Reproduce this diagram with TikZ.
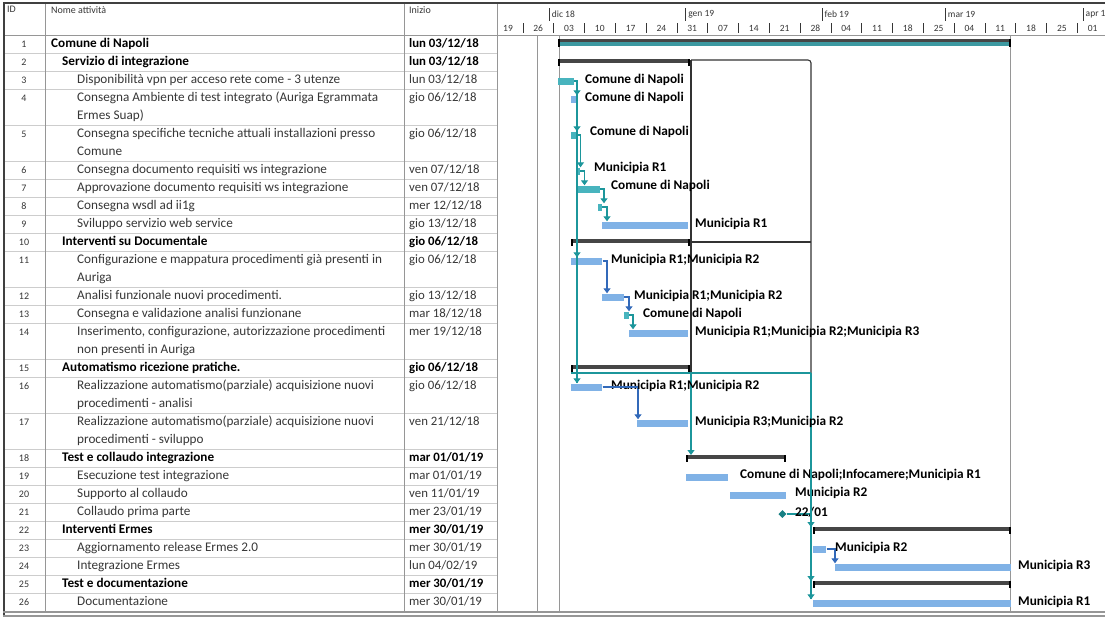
\documentclass[tikz,border=0pt]{standalone}
\usepackage{fontspec}
\setmainfont{Carlito}
\usetikzlibrary{arrows.meta,shapes.geometric}
\definecolor{barblue}{RGB}{128,178,230}
\definecolor{barteal}{RGB}{72,180,190}
\definecolor{linkteal}{RGB}{28,150,155}
\definecolor{linkblue}{RGB}{50,105,185}
\definecolor{sumgray}{RGB}{70,70,70}
\definecolor{gridgray}{RGB}{205,205,205}
\definecolor{colgray}{RGB}{150,150,150}
\definecolor{txtgray}{RGB}{55,55,55}
\begin{document}
\begin{tikzpicture}[x=1pt,y=-1pt,
  tbar/.style={fill=barblue, draw=none, minimum height=7pt, inner sep=0pt, anchor=west},
  cbar/.style={tbar, fill=barteal},
  sbar/.style={fill=sumgray, draw=none, minimum height=4pt, inner sep=0pt, anchor=north west},
  lab/.style={font=\fontsize{13.3}{15}\selectfont\bfseries, anchor=west, inner sep=0pt, text=black},
  tname/.style={anchor=north west, inner sep=0pt, align=left, font=\fontsize{13.2}{18}\selectfont, text=txtgray},
  tbold/.style={tname, font=\fontsize{13.2}{18}\selectfont\bfseries, text=black},
  tdate/.style={tname, font=\fontsize{12.8}{18}\selectfont},
  tdbold/.style={tname, font=\fontsize{12.8}{18}\selectfont\bfseries, text=black},
  tid/.style={anchor=north, inner sep=0pt, font=\fontsize{10}{18}\selectfont, text=txtgray},
  thead/.style={anchor=north west, inner sep=0pt, font=\fontsize{10}{12}\selectfont, text=txtgray},
  tscale/.style={inner sep=0pt, font=\fontsize{9.5}{11}\selectfont, text=txtgray},
  tlink/.style={draw=linkteal, line width=1.1pt},
  blink/.style={draw=linkblue, line width=1.1pt},
  flink/.style={draw=black!80, line width=1.1pt},
  tip/.style={-{Triangle[width=7pt,length=5pt]}}
]
\useasboundingbox (0,0) rectangle (1105,621);
\fill[white] (0,0) rectangle (1105,621);

% ---------- grid of the table ----------
\foreach \y in {35,53,71,89,125,161,179,197,215,233,251,287,305,323,359,377,413,449,467,485,503,521,539,557,575,593}
  \draw[gridgray, line width=0.8pt] (4,\y) -- (497,\y);
\foreach \x in {45,404,497}
  \draw[colgray, line width=0.8pt] (\x,3) -- (\x,611);
\draw[colgray, line width=0.8pt] (4,35) -- (1105,35);
\draw[black!75, line width=1.5pt] (3,3) -- (1105,3);
\draw[black!75, line width=2pt] (4,3) -- (4,617);
\draw[colgray, line width=1.5pt] (3,612) -- (1105,612);
\draw[colgray, line width=1.5pt] (3,616) -- (1105,616);
% chart vertical lines
\foreach \x in {537,559,1010}
  \draw[colgray, line width=0.8pt] (\x,35) -- (\x,611);

% ---------- header ----------
\node[thead] (hid) at (7,6) {ID};
\node[thead] (hname) at (51,6) {Nome attività};
\node[thead] (hdate) at (409,6) {Inizio};
% months
\foreach \x/\t [count=\i] in {549.2/dic 18,685.6/gen 19,822/feb 19,945.2/mar 19,1083/apr 19}{
  \draw[txtgray, line width=0.6pt] (\x,8) -- (\x,21);
  \node[tscale, anchor=west] (mon\i) at (\x+2.5,14) {\t};
}
% weeks
\foreach \x in {522.8,553.6,584.4,615.2,646,676.8,707.6,738.4,769.2,800,830.8,861.6,892.4,923.2,954,984.8,1015.6,1046.4,1077.2}
  \draw[txtgray, line width=0.6pt] (\x,23) -- (\x,33);
\foreach \x/\t [count=\i] in {508/19,538.2/26,569/03,599.8/10,630.6/17,661.4/24,692.2/31,723/07,753.8/14,784.6/21,815.4/28,846.2/04,877/11,907.8/18,938.6/25,969.4/04,1000.2/11,1031/18,1061.8/25,1092.6/01}
  \node[tscale] (wk\i) at (\x,28) {\t};

% ---------- IDs ----------
\foreach \n/\y in {1/35,2/53,3/71,4/89,5/125,6/161,7/179,8/197,9/215,10/233,11/251,12/287,13/305,14/323,15/359,16/377,17/413,18/449,19/467,20/485,21/503,22/521,23/539,24/557,25/575,26/593}
  \node[tid] (id\n) at (24,\y) {\strut\n};

% ---------- names ----------
\node[tbold] (n1) at (51,35) {\strut Comune di Napoli};
\node[tbold] (n2) at (62,53) {\strut Servizio di integrazione};
\node[tname] (n3) at (77,71) {\strut Disponibilità vpn per acceso rete come - 3 utenze};
\node[tname] (n4) at (77,89) {\strut Consegna Ambiente di test integrato (Auriga Egrammata\\\strut Ermes Suap)};
\node[tname] (n5) at (77,125) {\strut Consegna specifiche tecniche attuali installazioni presso\\\strut Comune};
\node[tname] (n6) at (77,161) {\strut Consegna documento requisiti ws integrazione};
\node[tname] (n7) at (77,179) {\strut Approvazione documento requisiti ws integrazione};
\node[tname] (n8) at (77,197) {\strut Consegna wsdl ad ii1g};
\node[tname] (n9) at (77,215) {\strut Sviluppo servizio web service};
\node[tbold] (n10) at (62,233) {\strut Interventi su Documentale};
\node[tname] (n11) at (77,251) {\strut Configurazione e mappatura procedimenti già presenti in\\\strut Auriga};
\node[tname] (n12) at (77,287) {\strut Analisi funzionale nuovi procedimenti.};
\node[tname] (n13) at (77,305) {\strut Consegna e validazione analisi funzionane};
\node[tname] (n14) at (77,323) {\strut Inserimento, configurazione, autorizzazione procedimenti\\\strut non presenti in Auriga};
\node[tbold] (n15) at (62,359) {\strut Automatismo ricezione pratiche.};
\node[tname] (n16) at (77,377) {\strut Realizzazione automatismo(parziale) acquisizione nuovi\\\strut procedimenti - analisi};
\node[tname] (n17) at (77,413) {\strut Realizzazione automatismo(parziale) acquisizione nuovi\\\strut procedimenti - sviluppo};
\node[tbold] (n18) at (62,449) {\strut Test e collaudo integrazione};
\node[tname] (n19) at (77,467) {\strut Esecuzione test integrazione};
\node[tname] (n20) at (77,485) {\strut Supporto al collaudo};
\node[tname] (n21) at (77,503) {\strut Collaudo prima parte};
\node[tbold] (n22) at (62,521) {\strut Interventi Ermes};
\node[tname] (n23) at (77,539) {\strut Aggiornamento release Ermes 2.0};
\node[tname] (n24) at (77,557) {\strut Integrazione Ermes};
\node[tbold] (n25) at (62,575) {\strut Test e documentazione};
\node[tname] (n26) at (77,593) {\strut Documentazione};

% ---------- start dates ----------
\foreach \n/\y/\d in {3/71/{lun 03/12/18},4/89/{gio 06/12/18},5/125/{gio 06/12/18},6/161/{ven 07/12/18},7/179/{ven 07/12/18},8/197/{mer 12/12/18},9/215/{gio 13/12/18},11/251/{gio 06/12/18},12/287/{gio 13/12/18},13/305/{mar 18/12/18},14/323/{mer 19/12/18},16/377/{gio 06/12/18},17/413/{ven 21/12/18},19/467/{mar 01/01/19},20/485/{ven 11/01/19},21/503/{mer 23/01/19},23/539/{mer 30/01/19},24/557/{lun 04/02/19},26/593/{mer 30/01/19}}
  \node[tdate] (d\n) at (409,\y) {\strut\d};
\foreach \n/\y/\d in {1/35/{lun 03/12/18},2/53/{lun 03/12/18},10/233/{gio 06/12/18},15/359/{gio 06/12/18},18/449/{mar 01/01/19},22/521/{mer 30/01/19},25/575/{mer 30/01/19}}
  \node[tdbold] (d\n) at (409,\y) {\strut\d};

% ---------- summary bars ----------
\fill[sumgray] (558,39) rectangle (1011,42);
\fill[barteal!85!black] (558,42) rectangle (1011,46);
\node[inner sep=0pt, minimum width=2pt, minimum height=8pt, fill=black, anchor=north west] (s1a) at (558,39) {};
\node[inner sep=0pt, minimum width=2pt, minimum height=8pt, fill=black, anchor=north east] (s1b) at (1011,39) {};
\foreach \n/\x/\w/\y in {2/558/132/59,10/571.2/118.8/239,15/571.2/118.8/365,18/685.6/100.4/455,22/813.2/197.8/527,25/813.2/197.8/581}{
  \node[sbar, minimum width=\w pt] (s\n) at (\x,\y) {};
  \fill[black] (s\n.north west) rectangle ++(2.2,7);
  \fill[black] (s\n.north east) rectangle ++(-2.2,7);
}

% ---------- task bars ----------
\node[cbar, minimum width=16pt] (b3) at (558,81) {};
\node[tbar, minimum width=5pt] (b4) at (571.2,99) {};
\node[cbar, minimum width=4.4pt] (b5) at (571.2,135) {};
\node[cbar, minimum width=4.4pt] (b6) at (575.6,171) {};
\node[cbar, minimum width=24pt] (b7) at (575.6,189) {};
\node[cbar, minimum width=4.4pt] (b8) at (597.6,207) {};
\node[tbar, minimum width=86pt] (b9) at (602,225) {};
\node[tbar, minimum width=31pt] (b11) at (571.2,261) {};
\node[tbar, minimum width=22pt] (b12) at (602,297) {};
\node[cbar, minimum width=4.4pt] (b13) at (624,315) {};
\node[tbar, minimum width=59.6pt] (b14) at (628.4,333) {};
\node[tbar, minimum width=31pt] (b16) at (571.2,387) {};
\node[tbar, minimum width=50.8pt] (b17) at (637.2,423) {};
\node[tbar, minimum width=42pt] (b19) at (685.6,477) {};
\node[tbar, minimum width=56pt] (b20) at (729.6,495) {};
\node[diamond, fill=linkteal!85!black, inner sep=0pt, minimum size=8pt] (m21) at (782.4,514) {};
\node[tbar, minimum width=13pt] (b23) at (813.2,549) {};
\node[tbar, minimum width=175.8pt] (b24) at (835.2,567) {};
\node[tbar, minimum width=197.8pt] (b26) at (813.2,603) {};

% ---------- frame links (black) ----------
\coordinate (fa) at (691,60);
\coordinate (fb) at (811,60);
\coordinate (fc) at (691,373);
\coordinate (fd) at (811,373);
\coordinate (fe) at (691,242);
\coordinate (ff) at (811,242);
\draw[flink, rounded corners=3pt] (fa) -- (fb) -- (fd);
\draw[flink] (fa) -- (fc);
\draw[flink] (fe) -- (ff);

% ---------- teal links ----------
\coordinate (k3) at (577,81);
\draw[tlink] (b3.east) -- (k3) -- (k3 |- b16.north);
\draw[tlink, tip] (577,88) -- (k3 |- b4.north);
\draw[tlink, tip] (577,122) -- (k3 |- b5.north);
\draw[tlink, tip] (577,250) -- (k3 |- b11.north);
\draw[tlink, tip] (577,376) -- (k3 |- b16.north);
\coordinate (k5) at (580.5,135);
\draw[tlink, tip] (b5.east) -- (k5) -- (k5 |- b6.north);
\coordinate (k6) at (584.5,171);
\draw[tlink, tip] (b6.east) -- (k6) -- (k6 |- b7.north);
\coordinate (k7) at (604,189);
\draw[tlink, tip] (b7.east) -- (k7) -- (k7 |- b8.north);
\coordinate (k8) at (607,207);
\draw[tlink, tip] (b8.east) -- (k8) -- (k8 |- b9.north);
\coordinate (k13) at (633,315);
\draw[tlink, tip] (b13.east) -- (k13) -- (k13 |- b14.north);
\coordinate (g15) at (571.2,373);
\draw[tlink] (g15) -- (fd);
\draw[tlink, tip] (fc) -- (fc |- s18.north);
\draw[tlink] (fd) -- (fd |- b26.north);
\draw[tlink, tip] (811,519) -- (fd |- s22.north);
\draw[tlink, tip] (811,573) -- (fd |- s25.north);
\draw[tlink, tip] (811,592) -- (fd |- b26.north);
\draw[tlink] (m21.east) -- (fd |- m21.east);

% ---------- blue links ----------
\coordinate (k11) at (607,261);
\draw[blink, tip] (b11.east) -- (k11) -- (k11 |- b12.north);
\coordinate (k12) at (629,297);
\draw[blink, tip] (b12.east) -- (k12) -- (k12 |- b13.north);
\coordinate (k16) at (638,387);
\draw[blink, tip] (b16.east) -- (k16) -- (k16 |- b17.north);
\coordinate (k23) at (835,549);
\draw[blink, tip] (b23.east) -- (k23) -- (k23 |- b24.north);

% ---------- bar labels ----------
\node[lab] (l3) at (585,80) {Comune di Napoli};
\node[lab] (l4) at (585,98) {Comune di Napoli};
\node[lab] (l5) at (590,132) {Comune di Napoli};
\node[lab] (l6) at (594,168) {Municipia R1};
\node[lab] (l7) at (611,186) {Comune di Napoli};
\node[lab] (l9) at (695,224) {Municipia R1};
\node[lab] (l11) at (611,260) {Municipia R1;Municipia R2};
\node[lab] (l12) at (634,296) {Municipia R1;Municipia R2};
\node[lab] (l13) at (643,314) {Comune di Napoli};
\node[lab] (l14) at (695,332) {Municipia R1;Municipia R2;Municipia R3};
\node[lab] (l16) at (611,386) {Municipia R1;Municipia R2};
\node[lab] (l17) at (695,422) {Municipia R3;Municipia R2};
\node[lab] (l19) at (740,475) {Comune di Napoli;Infocamere;Municipia R1};
\node[lab] (l20) at (795,493) {Municipia R2};
\node[lab] (l21) at (795,512) {22/01};
\node[lab] (l23) at (835,548) {Municipia R2};
\node[lab] (l24) at (1018,566) {Municipia R3};
\node[lab] (l26) at (1018,602) {Municipia R1};
% lines that cross over labels in the reference
\draw[blink] (b16.east) -- (k16);
\draw[tlink] (fd |- l19.north) -- (fd |- l21.south);
\end{tikzpicture}
\end{document}
